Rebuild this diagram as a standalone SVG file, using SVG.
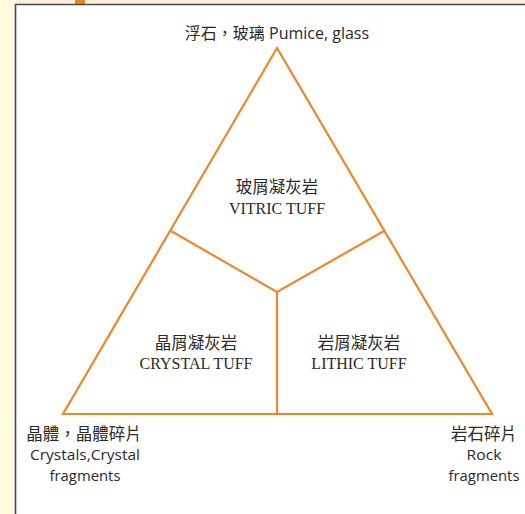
<svg xmlns="http://www.w3.org/2000/svg" width="525" height="514" viewBox="0 0 525 514">
<style>
.tri{fill:none;stroke:#EF872A;stroke-width:2.2;stroke-linejoin:miter}
.sans{font-family:"Open Sans","Noto Sans CJK TC",sans-serif;font-size:16px;fill:#2a2a2a;text-anchor:middle}
.lbl{font-family:"Open Sans",sans-serif;font-size:15px;fill:#2a2a2a;text-anchor:middle}
.serif{font-family:"Liberation Serif","Noto Sans CJK TC",serif;font-size:16px;fill:#2a2a2a;text-anchor:middle}
.cjk{font-family:"Noto Sans CJK TC",sans-serif;font-size:16.5px;fill:#2a2a2a;text-anchor:middle}
</style>
<rect x="0" y="0" width="525" height="514" fill="#FFFFFF"/>
<rect x="0" y="0" width="16" height="514" fill="#FFFCE0"/>
<rect x="16" y="0" width="509" height="5" fill="#FDEEDB"/>
<rect x="75" y="0" width="10" height="5" fill="#E6891E"/>
<path d="M15.5 514 V4.5 H525" fill="none" stroke="#4a4a4a" stroke-width="1.6"/>
<g id="connectors">
<polygon class="tri" points="277,48 63,414 492,414"/>
<polyline class="tri" points="171,231 277,292 384,231"/>
<line class="tri" x1="277" y1="292" x2="277" y2="414"/>
</g>
<g id="top">
<text class="sans" x="277" y="39">浮石，玻璃 Pumice, glass</text>
</g>
<g id="vitric">
<text class="cjk" x="277" y="193">玻屑凝灰岩</text>
<text class="serif" x="277" y="214">VITRIC TUFF</text>
</g>
<g id="crystal">
<text class="cjk" x="196" y="349">晶屑凝灰岩</text>
<text class="serif" x="196" y="369">CRYSTAL TUFF</text>
</g>
<g id="lithic">
<text class="cjk" x="359" y="349">岩屑凝灰岩</text>
<text class="serif" x="359" y="369">LITHIC TUFF</text>
</g>
<g id="crystals">
<text class="cjk" x="84" y="440">晶體，晶體碎片</text>
<text class="lbl" x="85" y="460" textLength="110" lengthAdjust="spacingAndGlyphs">Crystals,Crystal</text>
<text class="lbl" x="85" y="481" textLength="71" lengthAdjust="spacingAndGlyphs">fragments</text>
</g>
<g id="rock">
<text class="cjk" x="484" y="440">岩石碎片</text>
<text class="lbl" x="484" y="460" textLength="35" lengthAdjust="spacingAndGlyphs">Rock</text>
<text class="lbl" x="484" y="481" textLength="71" lengthAdjust="spacingAndGlyphs">fragments</text>
</g>
</svg>
